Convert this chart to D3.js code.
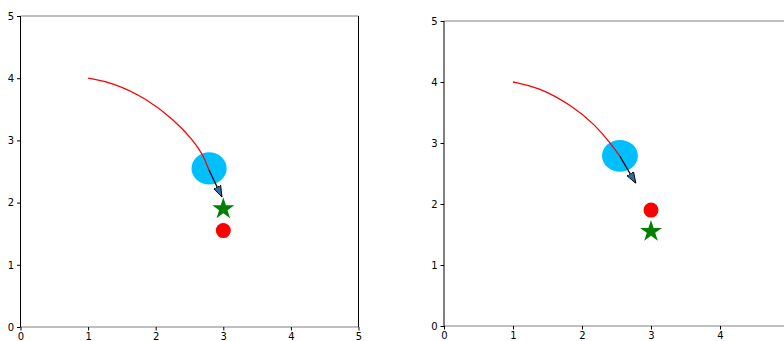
<!DOCTYPE html>
<html>
<head>
<meta charset="utf-8">
<script src="https://cdn.jsdelivr.net/npm/d3@7"></script>
<style>
  body { margin: 0; background: #fff; }
  svg { display: block; font-family: "DejaVu Sans", sans-serif; }
</style>
</head>
<body>
<svg id="chart" width="784" height="341"></svg>
<script>
const ticks = [0, 1, 2, 3, 4, 5];

// left panel
const curveLeft = [[1, 4], [1.37, 3.93], [1.87, 3.67], [2.26, 3.34], [2.55, 3.01], [2.70, 2.77], [2.79, 2.52]];
const arrowLeft = [[2.79, 2.52], [2.98, 2.09]];
const ellipseLeft = [2.79, 2.55];
const starLeft = [3, 1.9];
const dotLeft = [3, 1.55];

// right panel
const curveRight = [[1, 4], [1.36, 3.92], [1.86, 3.61], [2.19, 3.30], [2.43, 2.97], [2.55, 2.78]];
const arrowRight = [[2.55, 2.78], [2.78, 2.34]];
const ellipseRight = [2.55, 2.79];
const starRight = [3, 1.55];
const dotRight = [3, 1.9];

const radius = 0.26;

const svg = d3.select("#chart");

svg.append("defs")
  .append("marker")
    .attr("id", "head")
    .attr("markerUnits", "userSpaceOnUse")
    .attr("viewBox", "0 -5 10 10")
    .attr("refX", 10)
    .attr("refY", 0)
    .attr("markerWidth", 11)
    .attr("markerHeight", 11)
    .attr("orient", "auto")
  .append("path")
    .attr("d", "M0,-3.5L10,0L0,3.5Z")
    .attr("fill", "#2e6da4")
    .attr("stroke", "#000")
    .attr("stroke-width", 0.8);

const drawPanel = (box, d) => {
  const x = d3.scaleLinear().domain([0, 5]).range([box.x0, box.x1]);
  const y = d3.scaleLinear().domain([0, 5]).range([box.y1, box.y0]);
  const g = svg.append("g");

  // ellipse (circle in data units)
  g.append("ellipse")
    .attr("cx", x(d.ellipse[0]))
    .attr("cy", y(d.ellipse[1]))
    .attr("rx", x(radius) - x(0))
    .attr("ry", y(0) - y(radius))
    .attr("fill", "#00bfff");

  g.append("path")
    .datum(d.curve)
    .attr("d", d3.line().x(p => x(p[0])).y(p => y(p[1])).curve(d3.curveBasis))
    .attr("fill", "none")
    .attr("stroke", "red")
    .attr("stroke-width", 1.3);

  g.append("line")
    .attr("x1", x(d.arrow[0][0]))
    .attr("y1", y(d.arrow[0][1]))
    .attr("x2", x(d.arrow[1][0]))
    .attr("y2", y(d.arrow[1][1]))
    .attr("stroke", "#000")
    .attr("stroke-width", 1.3)
    .attr("marker-end", "url(#head)");

  g.append("path")
    .attr("d", d3.symbol(d3.symbolStar, 150)())
    .attr("transform", `translate(${x(d.star[0])},${y(d.star[1])})`)
    .attr("fill", "green");

  g.append("circle")
    .attr("cx", x(d.dot[0]))
    .attr("cy", y(d.dot[1]))
    .attr("r", 7.5)
    .attr("fill", "red");

  // spines
  g.append("line")
    .attr("x1", box.x0).attr("x2", box.x1)
    .attr("y1", box.y0).attr("y2", box.y0)
    .attr("stroke", "#808080").attr("stroke-width", 1.2);
  g.append("line")
    .attr("x1", box.x0).attr("x2", box.x1)
    .attr("y1", box.y1).attr("y2", box.y1)
    .attr("stroke", "#808080").attr("stroke-width", 1.2);
  g.append("line")
    .attr("x1", box.x0).attr("x2", box.x0)
    .attr("y1", box.y0).attr("y2", box.y1)
    .attr("stroke", "#000").attr("stroke-width", 1);
  g.append("line")
    .attr("x1", box.x1).attr("x2", box.x1)
    .attr("y1", box.y0).attr("y2", box.y1)
    .attr("stroke", "#000").attr("stroke-width", 1);

  // only x ticks that fall inside the window
  const xTicks = ticks.filter(t => x(t) < 784);
  const xAxis = g.append("g")
    .attr("transform", `translate(0,${box.y1})`)
    .call(d3.axisBottom(x).tickValues(xTicks).tickSize(3.5).tickPadding(2).tickFormat(d3.format("d")));
  const yAxis = g.append("g")
    .attr("transform", `translate(${box.x0},0)`)
    .call(d3.axisLeft(y).tickValues(ticks).tickSize(3.5).tickPadding(3).tickFormat(d3.format("d")));
  [xAxis, yAxis].forEach(a => {
    a.select(".domain").remove();
    a.selectAll("text").attr("font-size", 10).attr("fill", "#000").attr("font-family", "DejaVu Sans");
    a.selectAll("line").attr("stroke", "#000");
  });
};

drawPanel({x0: 20.5, x1: 358.5, y0: 16, y1: 327},
  {curve: curveLeft, arrow: arrowLeft, ellipse: ellipseLeft, star: starLeft, dot: dotLeft});
drawPanel({x0: 444, x1: 789, y0: 21, y1: 326},
  {curve: curveRight, arrow: arrowRight, ellipse: ellipseRight, star: starRight, dot: dotRight});
</script>
</body>
</html>
